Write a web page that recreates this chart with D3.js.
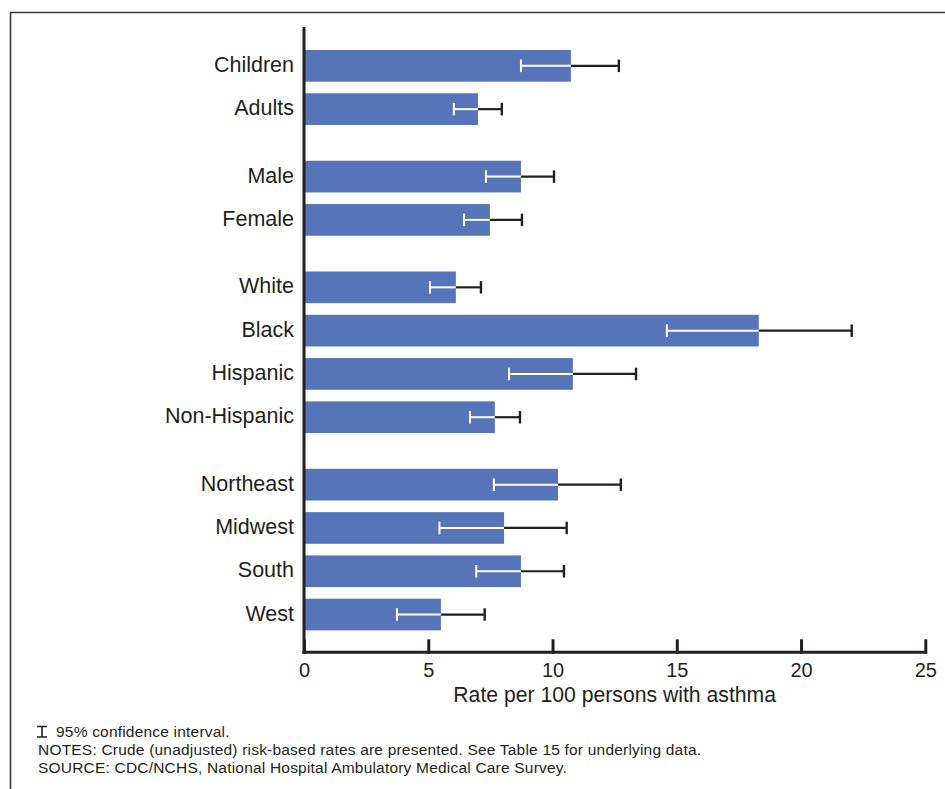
<!DOCTYPE html>
<html>
<head>
<meta charset="utf-8">
<script src="https://cdn.jsdelivr.net/npm/d3@7"></script>
<style>
  html, body { margin: 0; padding: 0; background: #fff; }
  svg { display: block; font-family: "Liberation Sans", Arial, Helvetica, sans-serif; }
</style>
</head>
<body>
<svg id="chart" width="945" height="789"></svg>
<script>
// ---- data ----
const categories = ["Children", "Adults", "Male", "Female", "White", "Black", "Hispanic", "Non-Hispanic", "Northeast", "Midwest", "South", "West"];
const groups     = [0, 0, 1, 1, 2, 2, 2, 2, 3, 3, 3, 3];
const rates      = [10.74, 7.0, 8.73, 7.48, 6.11, 18.3, 10.82, 7.68, 10.22, 8.05, 8.73, 5.51];
const ciLow      = [8.73, 6.03, 7.32, 6.44, 5.07, 14.6, 8.25, 6.68, 7.64, 5.45, 6.93, 3.74];
const ciHigh     = [12.67, 7.96, 10.06, 8.77, 7.12, 22.04, 13.36, 8.69, 12.75, 10.57, 10.46, 7.27];
const xTicks     = [0, 5, 10, 15, 20, 25];
const xTitle     = "Rate per 100 persons with asthma";
const notes      = [
  "95% confidence interval.",
  "NOTES: Crude (unadjusted) risk-based rates are presented. See Table 15 for underlying data.",
  "SOURCE: CDC/NCHS, National Hospital Ambulatory Medical Care Survey."
];

// ---- layout ----
const svg = d3.select("#chart");
const ink = "#231f20";
const barColor = "#5675b8";
const groupGap = 0.558;       // extra slot between groups
const barH = 31.7;

const data = categories.map((c, i) => ({
  cat: c, v: rates[i], lo: ciLow[i], hi: ciHigh[i], slot: i + groups[i] * groupGap
}));
const maxSlot = d3.max(data, d => d.slot);

const x = d3.scaleLinear().domain([0, 25]).range([304, 925.3]);
const y = d3.scaleLinear().domain([0, maxSlot]).range([50, 598.7]);

// frame
svg.append("path")
  .attr("d", "M10.5,800 V12.5 H960")
  .attr("fill", "none").attr("stroke", "#3a3a3a").attr("stroke-width", 1.6);

// bars
svg.selectAll("rect.bar").data(data).join("rect")
  .attr("class", "bar")
  .attr("x", x(0))
  .attr("y", d => y(d.slot))
  .attr("width", d => x(d.v) - x(0))
  .attr("height", barH)
  .attr("fill", barColor);

// error bars
const capH = 12.5;
const eb = svg.selectAll("g.eb").data(data).join("g").attr("class", "eb")
  .attr("transform", d => `translate(0,${y(d.slot) + barH / 2})`);
// inside (white) part
eb.append("line")
  .attr("x1", d => x(d.lo)).attr("x2", d => x(Math.min(d.v, d.hi)))
  .attr("y1", 0).attr("y2", 0)
  .attr("stroke", "#fff").attr("stroke-width", 2);
eb.append("line")
  .attr("x1", d => x(d.lo)).attr("x2", d => x(d.lo))
  .attr("y1", -capH / 2).attr("y2", capH / 2)
  .attr("stroke", "#fff").attr("stroke-width", 2);
// outside (black) part
eb.append("line")
  .attr("x1", d => x(d.v)).attr("x2", d => x(d.hi))
  .attr("y1", 0).attr("y2", 0)
  .attr("stroke", ink).attr("stroke-width", 2.2);
eb.append("line")
  .attr("x1", d => x(d.hi)).attr("x2", d => x(d.hi))
  .attr("y1", -capH / 2).attr("y2", capH / 2)
  .attr("stroke", ink).attr("stroke-width", 2.4);

// category labels
svg.selectAll("text.cat").data(data).join("text")
  .attr("class", "cat")
  .attr("x", 294)
  .attr("y", d => y(d.slot) + barH / 2 - 1.5)
  .attr("dy", "0.35em")
  .attr("text-anchor", "end")
  .attr("font-size", 21.5)
  .attr("fill", ink)
  .text(d => d.cat);

// y axis line
svg.append("line")
  .attr("x1", x(0)).attr("x2", x(0))
  .attr("y1", 27).attr("y2", 653.5)
  .attr("stroke", ink).attr("stroke-width", 3);

// x axis
const axisY = 652.3;
const xAxis = d3.axisBottom(x).tickValues(xTicks).tickSize(0).tickPadding(0).tickFormat(d3.format("d"));
const gx = svg.append("g").attr("transform", `translate(0,${axisY})`).call(xAxis);
gx.select(".domain").remove();
gx.selectAll(".tick text")
  .attr("y", 25).attr("dy", 0)
  .attr("font-size", 20)
  .attr("font-family", "Liberation Sans, Arial, sans-serif")
  .attr("fill", ink);
gx.selectAll(".tick").append("line")
  .attr("y1", 1.5).attr("y2", -13)
  .attr("stroke", ink).attr("stroke-width", 3);
gx.append("line")
  .attr("x1", x(0) - 1.5).attr("x2", x(25) + 1.5)
  .attr("y1", 0).attr("y2", 0)
  .attr("stroke", ink).attr("stroke-width", 3);

// x title
svg.append("text")
  .attr("x", (x(0) + x(25)) / 2)
  .attr("y", 702)
  .attr("text-anchor", "middle")
  .attr("font-size", 21.2)
  .attr("fill", ink)
  .text(xTitle);

// footnotes
const noteX = 38, noteY0 = 737, noteDY = 18;
// CI symbol
svg.append("path")
  .attr("d", `M${noteX - 1},${noteY0 - 10.5} h10 M${noteX + 4},${noteY0 - 10.5} v10.5 M${noteX - 1},${noteY0} h10`)
  .attr("stroke", ink).attr("stroke-width", 1.6).attr("fill", "none");
svg.selectAll("text.note").data(notes).join("text")
  .attr("class", "note")
  .attr("x", (d, i) => i === 0 ? 56 : noteX)
  .attr("y", (d, i) => noteY0 + i * noteDY)
  .attr("font-size", 15.5)
  .attr("letter-spacing", 0.2)
  .attr("fill", ink)
  .text(d => d);
</script>
</body>
</html>
